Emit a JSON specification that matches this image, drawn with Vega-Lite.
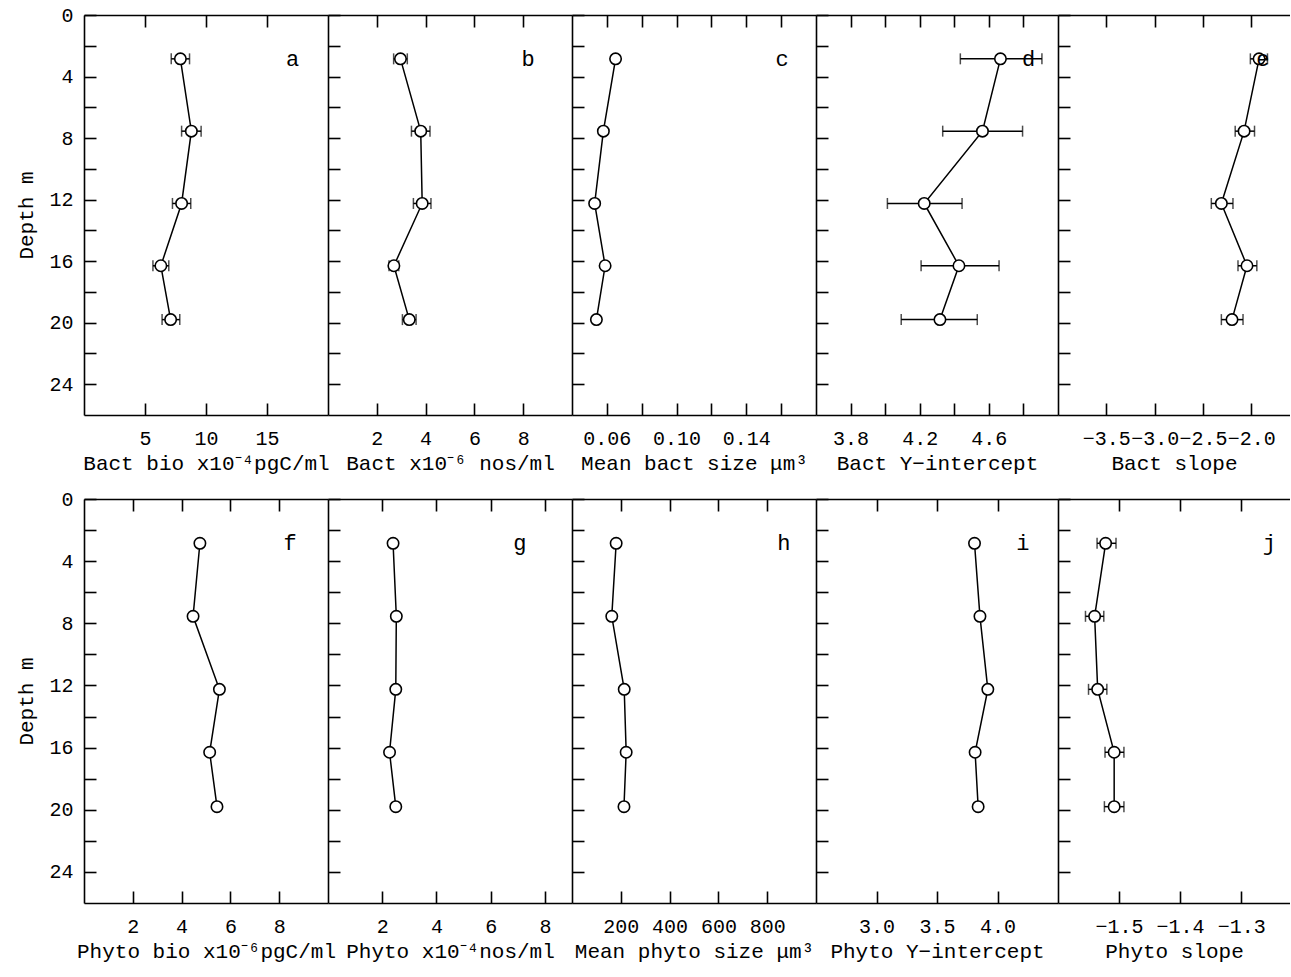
{
  "$schema": "https://vega.github.io/schema/vega-lite/v6.json",
  "background": "white",
  "padding": {"left": 15, "top": 5, "right": 0, "bottom": 5},
  "autosize": {"type": "pad"},
  "datasets": {
    "a": [
      {"depth": 2.85, "v": 7.9, "lo": 7.15, "hi": 8.65},
      {"depth": 7.55, "v": 8.8, "lo": 8.0, "hi": 9.6},
      {"depth": 12.25, "v": 8.0, "lo": 7.25, "hi": 8.75},
      {"depth": 16.3, "v": 6.3, "lo": 5.65, "hi": 6.95},
      {"depth": 19.8, "v": 7.1, "lo": 6.4, "hi": 7.85}
    ],
    "b": [
      {"depth": 2.85, "v": 2.97, "lo": 2.69, "hi": 3.25},
      {"depth": 7.55, "v": 3.8, "lo": 3.42, "hi": 4.18},
      {"depth": 12.25, "v": 3.86, "lo": 3.5, "hi": 4.22},
      {"depth": 16.3, "v": 2.7, "lo": 2.5, "hi": 2.9},
      {"depth": 19.8, "v": 3.33, "lo": 3.05, "hi": 3.61}
    ],
    "c": [
      {"depth": 2.85, "v": 0.065},
      {"depth": 7.55, "v": 0.058},
      {"depth": 12.25, "v": 0.053},
      {"depth": 16.3, "v": 0.059},
      {"depth": 19.8, "v": 0.054}
    ],
    "d": [
      {"depth": 2.85, "v": 4.667, "lo": 4.435, "hi": 4.907},
      {"depth": 7.55, "v": 4.563, "lo": 4.333, "hi": 4.795},
      {"depth": 12.25, "v": 4.226, "lo": 4.013, "hi": 4.445},
      {"depth": 16.3, "v": 4.427, "lo": 4.208, "hi": 4.659},
      {"depth": 19.8, "v": 4.317, "lo": 4.093, "hi": 4.533}
    ],
    "e": [
      {"depth": 2.85, "v": -1.92, "lo": -2.01, "hi": -1.833},
      {"depth": 7.55, "v": -2.075, "lo": -2.167, "hi": -1.967},
      {"depth": 12.25, "v": -2.31, "lo": -2.414, "hi": -2.19},
      {"depth": 16.3, "v": -2.045, "lo": -2.138, "hi": -1.943},
      {"depth": 19.8, "v": -2.2, "lo": -2.31, "hi": -2.086}
    ],
    "f": [
      {"depth": 2.85, "v": 4.75},
      {"depth": 7.55, "v": 4.47},
      {"depth": 12.25, "v": 5.55},
      {"depth": 16.3, "v": 5.15},
      {"depth": 19.8, "v": 5.45}
    ],
    "g": [
      {"depth": 2.85, "v": 2.4},
      {"depth": 7.55, "v": 2.52},
      {"depth": 12.25, "v": 2.5},
      {"depth": 16.3, "v": 2.27},
      {"depth": 19.8, "v": 2.5}
    ],
    "h": [
      {"depth": 2.85, "v": 181},
      {"depth": 7.55, "v": 163},
      {"depth": 12.25, "v": 214},
      {"depth": 16.3, "v": 222},
      {"depth": 19.8, "v": 213}
    ],
    "i": [
      {"depth": 2.85, "v": 3.81},
      {"depth": 7.55, "v": 3.855},
      {"depth": 12.25, "v": 3.92},
      {"depth": 16.3, "v": 3.815},
      {"depth": 19.8, "v": 3.84}
    ],
    "j": [
      {"depth": 2.85, "v": -1.522, "lo": -1.536, "hi": -1.505},
      {"depth": 7.55, "v": -1.54, "lo": -1.555, "hi": -1.525},
      {"depth": 12.25, "v": -1.535, "lo": -1.55, "hi": -1.52},
      {"depth": 16.3, "v": -1.508, "lo": -1.523, "hi": -1.492},
      {"depth": 19.8, "v": -1.508, "lo": -1.524, "hi": -1.492}
    ]
  },
  "vconcat": [
    {
      "spacing": 0,
      "bounds": "flush",
      "resolve": {"scale": {"x": "independent", "y": "independent"}},
      "hconcat": [
        {
          "width": 244, "height": 400, "data": {"name": "a"},
          "encoding": {"y": {"field": "depth", "type": "quantitative", "scale": {"domain": [0, 26], "reverse": true, "nice": false, "zero": false}, "axis": {"orient": "left", "values": [0,2,4,6,8,10,12,14,16,18,20,22,24], "labelExpr": "datum.value % 4 == 0 ? datum.label : ''", "title": "Depth m"}}},
          "layer": [
            {"mark": {"type": "line", "color": "black", "strokeWidth": 1.5},
             "encoding": {
               "x": {"field": "v", "type": "quantitative", "scale": {"domain": [0, 20], "nice": false, "zero": false}, "axis": {"orient": "top", "values": [5, 10, 15], "labels": false, "title": null}},
               "order": {"field": "depth", "type": "quantitative"}}},
            {"mark": {"type": "rule", "color": "black", "strokeWidth": 1.5},
             "encoding": {"x": {"field": "lo", "type": "quantitative", "axis": null}, "x2": {"field": "hi"}}},
            {"mark": {"type": "tick", "orient": "vertical", "color": "black", "size": 11, "thickness": 1.5},
             "encoding": {"x": {"field": "lo", "type": "quantitative", "axis": null}}},
            {"mark": {"type": "tick", "orient": "vertical", "color": "black", "size": 11, "thickness": 1.5},
             "encoding": {"x": {"field": "hi", "type": "quantitative", "axis": null}}},
            {"mark": {"type": "point", "shape": "circle", "filled": true, "fill": "white", "stroke": "black", "strokeWidth": 1.6, "size": 130, "opacity": 1},
             "encoding": {"x": {"field": "v", "type": "quantitative", "axis": {"orient": "bottom", "values": [5, 10, 15], "title": "Bact bio x10⁻⁴pgC/ml"}}}},
            {"transform": [{"filter": "datum.depth < 5"}],
             "mark": {"type": "text", "fontSize": 22, "color": "black", "font": "Liberation Mono"},
             "encoding": {"x": {"datum": 17.1, "type": "quantitative", "axis": null}, "text": {"value": "a"}}}
          ]
        },
        {
          "width": 244, "height": 400, "data": {"name": "b"},
          "encoding": {"y": {"field": "depth", "type": "quantitative", "scale": {"domain": [0, 26], "reverse": true, "nice": false, "zero": false}, "axis": {"orient": "left", "values": [0,2,4,6,8,10,12,14,16,18,20,22,24], "labels": false, "title": null}}},
          "layer": [
            {"mark": {"type": "line", "color": "black", "strokeWidth": 1.5},
             "encoding": {
               "x": {"field": "v", "type": "quantitative", "scale": {"domain": [0, 10], "nice": false, "zero": false}, "axis": {"orient": "top", "values": [2, 4, 6, 8], "labels": false, "title": null}},
               "order": {"field": "depth", "type": "quantitative"}}},
            {"mark": {"type": "rule", "color": "black", "strokeWidth": 1.5},
             "encoding": {"x": {"field": "lo", "type": "quantitative", "axis": null}, "x2": {"field": "hi"}}},
            {"mark": {"type": "tick", "orient": "vertical", "color": "black", "size": 11, "thickness": 1.5},
             "encoding": {"x": {"field": "lo", "type": "quantitative", "axis": null}}},
            {"mark": {"type": "tick", "orient": "vertical", "color": "black", "size": 11, "thickness": 1.5},
             "encoding": {"x": {"field": "hi", "type": "quantitative", "axis": null}}},
            {"mark": {"type": "point", "shape": "circle", "filled": true, "fill": "white", "stroke": "black", "strokeWidth": 1.6, "size": 130, "opacity": 1},
             "encoding": {"x": {"field": "v", "type": "quantitative", "axis": {"orient": "bottom", "values": [2, 4, 6, 8], "title": "Bact x10⁻⁶ nos/ml"}}}},
            {"transform": [{"filter": "datum.depth < 5"}],
             "mark": {"type": "text", "fontSize": 22, "color": "black", "font": "Liberation Mono"},
             "encoding": {"x": {"datum": 8.2, "type": "quantitative", "axis": null}, "text": {"value": "b"}}}
          ]
        },
        {
          "width": 244, "height": 400, "data": {"name": "c"},
          "encoding": {"y": {"field": "depth", "type": "quantitative", "scale": {"domain": [0, 26], "reverse": true, "nice": false, "zero": false}, "axis": {"orient": "left", "values": [0,2,4,6,8,10,12,14,16,18,20,22,24], "labels": false, "title": null}}},
          "layer": [
            {"mark": {"type": "line", "color": "black", "strokeWidth": 1.5},
             "encoding": {
               "x": {"field": "v", "type": "quantitative", "scale": {"domain": [0.04, 0.18], "nice": false, "zero": false}, "axis": {"orient": "top", "values": [0.06, 0.08, 0.10, 0.12, 0.14, 0.16], "labels": false, "title": null}},
               "order": {"field": "depth", "type": "quantitative"}}},
            {"mark": {"type": "point", "shape": "circle", "filled": true, "fill": "white", "stroke": "black", "strokeWidth": 1.6, "size": 130, "opacity": 1},
             "encoding": {"x": {"field": "v", "type": "quantitative", "axis": {"orient": "bottom", "values": [0.06, 0.08, 0.10, 0.12, 0.14, 0.16], "format": ".2f", "labelExpr": "indexof(['0.06','0.10','0.14'], datum.label) >= 0 ? datum.label : ''", "title": "Mean bact size μm³"}}}},
            {"transform": [{"filter": "datum.depth < 5"}],
             "mark": {"type": "text", "fontSize": 22, "color": "black", "font": "Liberation Mono"},
             "encoding": {"x": {"datum": 0.1606, "type": "quantitative", "axis": null}, "text": {"value": "c"}}}
          ]
        },
        {
          "width": 242, "height": 400, "data": {"name": "d"},
          "encoding": {"y": {"field": "depth", "type": "quantitative", "scale": {"domain": [0, 26], "reverse": true, "nice": false, "zero": false}, "axis": {"orient": "left", "values": [0,2,4,6,8,10,12,14,16,18,20,22,24], "labels": false, "title": null}}},
          "layer": [
            {"mark": {"type": "line", "color": "black", "strokeWidth": 1.5},
             "encoding": {
               "x": {"field": "v", "type": "quantitative", "scale": {"domain": [3.6, 5.0], "nice": false, "zero": false}, "axis": {"orient": "top", "values": [3.8, 4.0, 4.2, 4.4, 4.6, 4.8], "labels": false, "title": null}},
               "order": {"field": "depth", "type": "quantitative"}}},
            {"mark": {"type": "rule", "color": "black", "strokeWidth": 1.5},
             "encoding": {"x": {"field": "lo", "type": "quantitative", "axis": null}, "x2": {"field": "hi"}}},
            {"mark": {"type": "tick", "orient": "vertical", "color": "black", "size": 11, "thickness": 1.5},
             "encoding": {"x": {"field": "lo", "type": "quantitative", "axis": null}}},
            {"mark": {"type": "tick", "orient": "vertical", "color": "black", "size": 11, "thickness": 1.5},
             "encoding": {"x": {"field": "hi", "type": "quantitative", "axis": null}}},
            {"mark": {"type": "point", "shape": "circle", "filled": true, "fill": "white", "stroke": "black", "strokeWidth": 1.6, "size": 130, "opacity": 1},
             "encoding": {"x": {"field": "v", "type": "quantitative", "axis": {"orient": "bottom", "values": [3.8, 4.0, 4.2, 4.4, 4.6, 4.8], "format": ".1f", "labelExpr": "indexof(['3.8','4.2','4.6'], datum.label) >= 0 ? datum.label : ''", "title": "Bact Y−intercept"}}}},
            {"transform": [{"filter": "datum.depth < 5"}],
             "mark": {"type": "text", "fontSize": 22, "color": "black", "font": "Liberation Mono"},
             "encoding": {"x": {"datum": 4.83, "type": "quantitative", "axis": null}, "text": {"value": "d"}}}
          ]
        },
        {
          "width": 232, "height": 400, "data": {"name": "e"},
          "encoding": {"y": {"field": "depth", "type": "quantitative", "scale": {"domain": [0, 26], "reverse": true, "nice": false, "zero": false}, "axis": {"orient": "left", "values": [0,2,4,6,8,10,12,14,16,18,20,22,24], "labels": false, "title": null}}},
          "layer": [
            {"mark": {"type": "line", "color": "black", "strokeWidth": 1.5},
             "encoding": {
               "x": {"field": "v", "type": "quantitative", "scale": {"domain": [-4.0, -1.6], "nice": false, "zero": false}, "axis": {"orient": "top", "values": [-3.5, -3.0, -2.5, -2.0], "labels": false, "title": null}},
               "order": {"field": "depth", "type": "quantitative"}}},
            {"mark": {"type": "rule", "color": "black", "strokeWidth": 1.5},
             "encoding": {"x": {"field": "lo", "type": "quantitative", "axis": null}, "x2": {"field": "hi"}}},
            {"mark": {"type": "tick", "orient": "vertical", "color": "black", "size": 11, "thickness": 1.5},
             "encoding": {"x": {"field": "lo", "type": "quantitative", "axis": null}}},
            {"mark": {"type": "tick", "orient": "vertical", "color": "black", "size": 11, "thickness": 1.5},
             "encoding": {"x": {"field": "hi", "type": "quantitative", "axis": null}}},
            {"mark": {"type": "point", "shape": "circle", "filled": true, "fill": "white", "stroke": "black", "strokeWidth": 1.6, "size": 130, "opacity": 1},
             "encoding": {"x": {"field": "v", "type": "quantitative", "axis": {"orient": "bottom", "values": [-3.5, -3.0, -2.5, -2.0], "format": ".1f", "title": "Bact slope"}}}},
            {"transform": [{"filter": "datum.depth < 5"}],
             "mark": {"type": "text", "fontSize": 22, "color": "black", "font": "Liberation Mono"},
             "encoding": {"x": {"datum": -1.88, "type": "quantitative", "axis": null}, "text": {"value": "e"}}}
          ]
        }
      ]
    },
    {
      "spacing": 0,
      "bounds": "flush",
      "resolve": {"scale": {"x": "independent", "y": "independent"}},
      "hconcat": [
        {
          "width": 244, "height": 404, "data": {"name": "f"},
          "encoding": {"y": {"field": "depth", "type": "quantitative", "scale": {"domain": [0, 26], "reverse": true, "nice": false, "zero": false}, "axis": {"orient": "left", "values": [0,2,4,6,8,10,12,14,16,18,20,22,24], "labelExpr": "datum.value % 4 == 0 ? datum.label : ''", "title": "Depth m"}}},
          "layer": [
            {"mark": {"type": "line", "color": "black", "strokeWidth": 1.5},
             "encoding": {
               "x": {"field": "v", "type": "quantitative", "scale": {"domain": [0, 10], "nice": false, "zero": false}, "axis": {"orient": "top", "values": [2, 4, 6, 8], "labels": false, "title": null}},
               "order": {"field": "depth", "type": "quantitative"}}},
            {"mark": {"type": "point", "shape": "circle", "filled": true, "fill": "white", "stroke": "black", "strokeWidth": 1.6, "size": 130, "opacity": 1},
             "encoding": {"x": {"field": "v", "type": "quantitative", "axis": {"orient": "bottom", "values": [2, 4, 6, 8], "title": "Phyto bio x10⁻⁶pgC/ml"}}}},
            {"transform": [{"filter": "datum.depth < 5"}],
             "mark": {"type": "text", "fontSize": 22, "color": "black", "font": "Liberation Mono"},
             "encoding": {"x": {"datum": 8.45, "type": "quantitative", "axis": null}, "text": {"value": "f"}}}
          ]
        },
        {
          "width": 244, "height": 404, "data": {"name": "g"},
          "encoding": {"y": {"field": "depth", "type": "quantitative", "scale": {"domain": [0, 26], "reverse": true, "nice": false, "zero": false}, "axis": {"orient": "left", "values": [0,2,4,6,8,10,12,14,16,18,20,22,24], "labels": false, "title": null}}},
          "layer": [
            {"mark": {"type": "line", "color": "black", "strokeWidth": 1.5},
             "encoding": {
               "x": {"field": "v", "type": "quantitative", "scale": {"domain": [0, 9], "nice": false, "zero": false}, "axis": {"orient": "top", "values": [2, 4, 6, 8], "labels": false, "title": null}},
               "order": {"field": "depth", "type": "quantitative"}}},
            {"mark": {"type": "point", "shape": "circle", "filled": true, "fill": "white", "stroke": "black", "strokeWidth": 1.6, "size": 130, "opacity": 1},
             "encoding": {"x": {"field": "v", "type": "quantitative", "axis": {"orient": "bottom", "values": [2, 4, 6, 8], "title": "Phyto x10⁻⁴nos/ml"}}}},
            {"transform": [{"filter": "datum.depth < 5"}],
             "mark": {"type": "text", "fontSize": 22, "color": "black", "font": "Liberation Mono"},
             "encoding": {"x": {"datum": 7.08, "type": "quantitative", "axis": null}, "text": {"value": "g"}}}
          ]
        },
        {
          "width": 244, "height": 404, "data": {"name": "h"},
          "encoding": {"y": {"field": "depth", "type": "quantitative", "scale": {"domain": [0, 26], "reverse": true, "nice": false, "zero": false}, "axis": {"orient": "left", "values": [0,2,4,6,8,10,12,14,16,18,20,22,24], "labels": false, "title": null}}},
          "layer": [
            {"mark": {"type": "line", "color": "black", "strokeWidth": 1.5},
             "encoding": {
               "x": {"field": "v", "type": "quantitative", "scale": {"domain": [0, 1000], "nice": false, "zero": false}, "axis": {"orient": "top", "values": [200, 400, 600, 800], "labels": false, "title": null}},
               "order": {"field": "depth", "type": "quantitative"}}},
            {"mark": {"type": "point", "shape": "circle", "filled": true, "fill": "white", "stroke": "black", "strokeWidth": 1.6, "size": 130, "opacity": 1},
             "encoding": {"x": {"field": "v", "type": "quantitative", "axis": {"orient": "bottom", "values": [200, 400, 600, 800], "title": "Mean phyto size μm³"}}}},
            {"transform": [{"filter": "datum.depth < 5"}],
             "mark": {"type": "text", "fontSize": 22, "color": "black", "font": "Liberation Mono"},
             "encoding": {"x": {"datum": 868, "type": "quantitative", "axis": null}, "text": {"value": "h"}}}
          ]
        },
        {
          "width": 242, "height": 404, "data": {"name": "i"},
          "encoding": {"y": {"field": "depth", "type": "quantitative", "scale": {"domain": [0, 26], "reverse": true, "nice": false, "zero": false}, "axis": {"orient": "left", "values": [0,2,4,6,8,10,12,14,16,18,20,22,24], "labels": false, "title": null}}},
          "layer": [
            {"mark": {"type": "line", "color": "black", "strokeWidth": 1.5},
             "encoding": {
               "x": {"field": "v", "type": "quantitative", "scale": {"domain": [2.5, 4.5], "nice": false, "zero": false}, "axis": {"orient": "top", "values": [3.0, 3.5, 4.0], "labels": false, "title": null}},
               "order": {"field": "depth", "type": "quantitative"}}},
            {"mark": {"type": "point", "shape": "circle", "filled": true, "fill": "white", "stroke": "black", "strokeWidth": 1.6, "size": 130, "opacity": 1},
             "encoding": {"x": {"field": "v", "type": "quantitative", "axis": {"orient": "bottom", "values": [3.0, 3.5, 4.0], "format": ".1f", "title": "Phyto Y−intercept"}}}},
            {"transform": [{"filter": "datum.depth < 5"}],
             "mark": {"type": "text", "fontSize": 22, "color": "black", "font": "Liberation Mono"},
             "encoding": {"x": {"datum": 4.21, "type": "quantitative", "axis": null}, "text": {"value": "i"}}}
          ]
        },
        {
          "width": 232, "height": 404, "data": {"name": "j"},
          "encoding": {"y": {"field": "depth", "type": "quantitative", "scale": {"domain": [0, 26], "reverse": true, "nice": false, "zero": false}, "axis": {"orient": "left", "values": [0,2,4,6,8,10,12,14,16,18,20,22,24], "labels": false, "title": null}}},
          "layer": [
            {"mark": {"type": "line", "color": "black", "strokeWidth": 1.5},
             "encoding": {
               "x": {"field": "v", "type": "quantitative", "scale": {"domain": [-1.6, -1.22], "nice": false, "zero": false}, "axis": {"orient": "top", "values": [-1.5, -1.4, -1.3], "labels": false, "title": null}},
               "order": {"field": "depth", "type": "quantitative"}}},
            {"mark": {"type": "rule", "color": "black", "strokeWidth": 1.5},
             "encoding": {"x": {"field": "lo", "type": "quantitative", "axis": null}, "x2": {"field": "hi"}}},
            {"mark": {"type": "tick", "orient": "vertical", "color": "black", "size": 11, "thickness": 1.5},
             "encoding": {"x": {"field": "lo", "type": "quantitative", "axis": null}}},
            {"mark": {"type": "tick", "orient": "vertical", "color": "black", "size": 11, "thickness": 1.5},
             "encoding": {"x": {"field": "hi", "type": "quantitative", "axis": null}}},
            {"mark": {"type": "point", "shape": "circle", "filled": true, "fill": "white", "stroke": "black", "strokeWidth": 1.6, "size": 130, "opacity": 1},
             "encoding": {"x": {"field": "v", "type": "quantitative", "axis": {"orient": "bottom", "values": [-1.5, -1.4, -1.3], "format": ".1f", "title": "Phyto slope"}}}},
            {"transform": [{"filter": "datum.depth < 5"}],
             "mark": {"type": "text", "fontSize": 22, "color": "black", "font": "Liberation Mono"},
             "encoding": {"x": {"datum": -1.254, "type": "quantitative", "axis": null}, "text": {"value": "j"}}}
          ]
        }
      ]
    }
  ],
  "spacing": 16,
  "config": {
    "view": {"stroke": null},
    "font": "Liberation Mono",
    "axis": {
      "domainColor": "black", "domainWidth": 1.6,
      "tickColor": "black", "tickWidth": 1.6, "tickSize": -12,
      "labelColor": "black", "labelFont": "Liberation Mono", "labelFontSize": 20,
      "titleColor": "black", "titleFont": "Liberation Mono", "titleFontSize": 21, "titleFontWeight": "normal",
      "grid": false, "labelOverlap": false, "labelFlush": false
    },
    "axisBottom": {"labelPadding": 25, "titlePadding": 4},
    "axisLeft": {"labelPadding": 23, "titlePadding": 12}
  }
}
